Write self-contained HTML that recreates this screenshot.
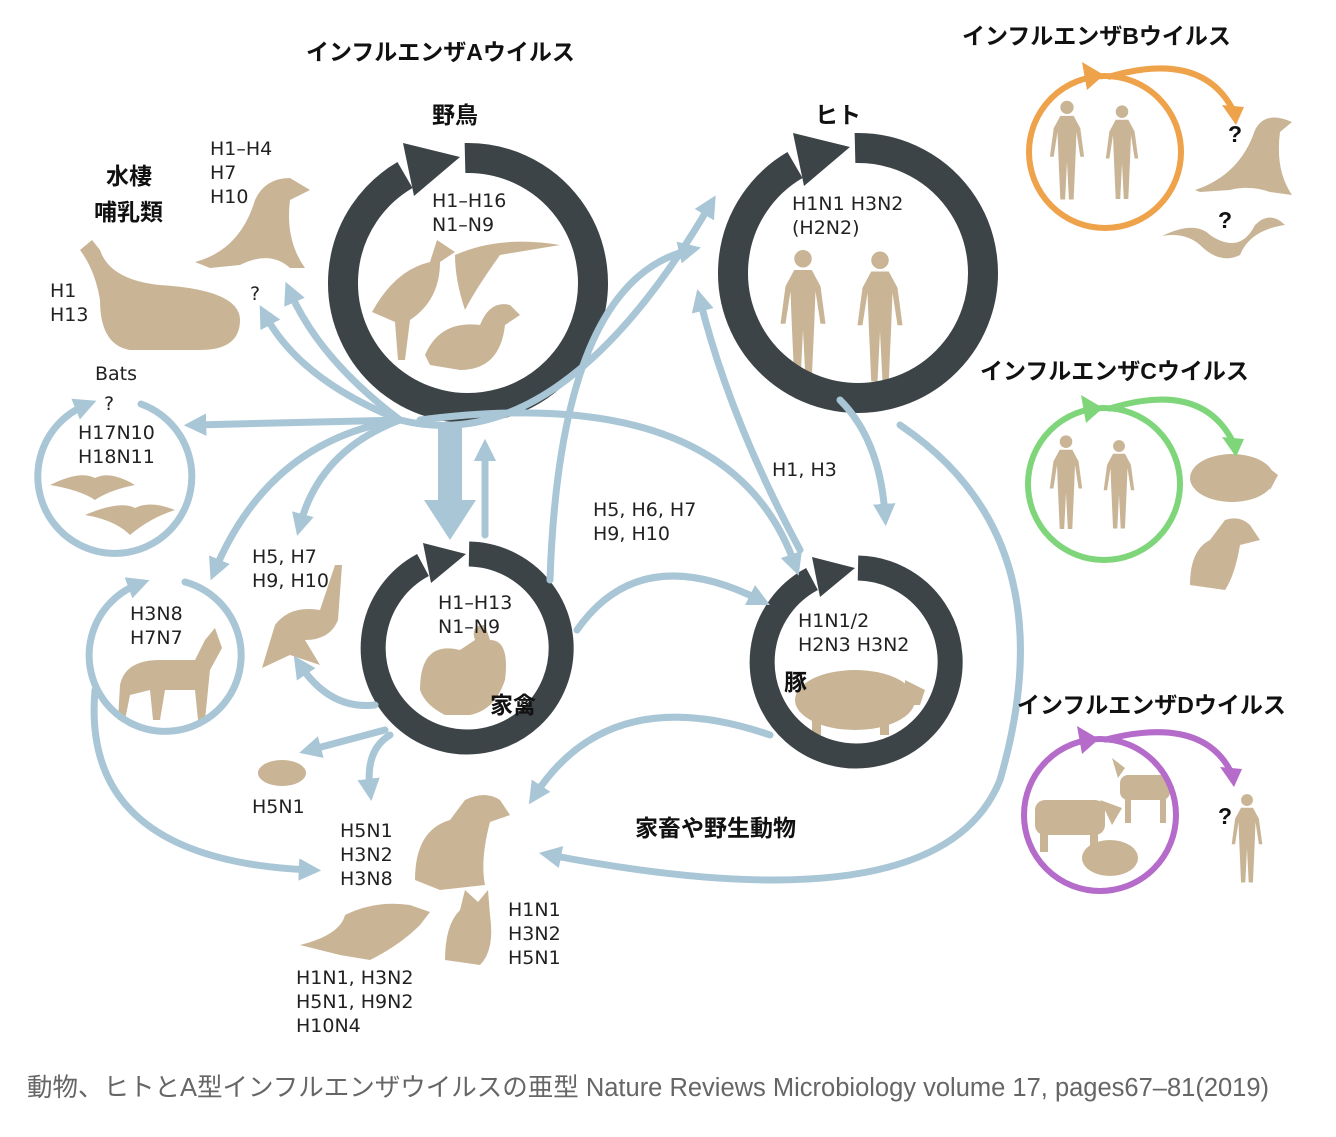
<!DOCTYPE html>
<html><head><meta charset="utf-8"><style>
body{margin:0;background:#fff;}
svg{display:block}
.t{font-family:"Liberation Sans","Noto Sans CJK JP",sans-serif;font-weight:bold;font-size:23px;fill:#111}
.l{font-family:"DejaVu Sans","Liberation Sans",sans-serif;font-size:19px;fill:#222}
.b{fill:none;stroke:#a9c6d6;stroke-width:7;stroke-linecap:round}
</style></head><body>
<svg width="1336" height="1137" viewBox="0 0 1336 1137" xmlns="http://www.w3.org/2000/svg">
<defs>
<marker id="ah" viewBox="0 0 10 10" refX="5" refY="5" markerWidth="3.2" markerHeight="3.2" orient="auto"><path d="M0,0 L10,5 L0,10 z" fill="#a9c6d6"/></marker>
<symbol id="man" viewBox="0 0 40 110"><circle cx="20" cy="8" r="7"/><path d="M13,17 H27 L34,30 L38,60 L34,60 L30,34 L29,60 L27,105 L22,105 L20,65 L18,105 L13,105 L11,60 L10,34 L6,60 L2,60 L6,30 Z"/></symbol>
</defs>
<g fill="#c9b596">
<use href="#man" x="778" y="245" width="50" height="145"/>
<use href="#man" x="855" y="248" width="50" height="142"/>
<use href="#man" x="1048" y="98" width="38" height="108"/>
<use href="#man" x="1104" y="103" width="36" height="102"/>
<use href="#man" x="1048" y="432" width="36" height="104"/>
<use href="#man" x="1102" y="436" width="34" height="100"/>
<use href="#man" x="1230" y="785" width="34" height="110"/>
<path d="M80,250 L92,240 L100,250 Q110,280 160,285 Q240,290 240,320 Q240,350 200,350 L130,350 Q100,345 100,300 Q95,270 80,250 Z"/>
<path d="M195,262 Q240,250 255,200 Q265,178 290,178 L310,190 L290,200 Q285,240 305,268 L290,268 Q270,250 240,265 L210,268 Z"/>
<path d="M1195,190 Q1240,175 1255,130 Q1265,110 1292,122 L1280,132 Q1275,170 1292,195 L1270,192 Q1250,185 1230,190 L1200,192 Z"/>
<path d="M1162,236 Q1195,220 1210,235 Q1240,255 1255,225 Q1270,210 1285,225 Q1250,230 1240,255 Q1220,265 1200,245 Q1185,232 1162,236 Z"/>
<path d="M372,312 Q395,270 430,262 L437,240 L455,252 L440,262 Q440,300 410,320 L405,360 L398,360 L395,322 Z"/>
<path d="M455,255 Q500,235 560,245 L500,255 Q475,290 465,310 Q455,280 455,255 Z"/>
<path d="M425,355 Q440,320 480,325 Q490,300 510,305 L520,315 L505,325 Q500,370 460,370 L430,365 Z"/>
<path d="M420,690 Q420,640 460,650 L475,640 Q470,625 485,625 L490,640 Q510,640 505,680 Q495,710 470,715 L445,715 Q425,705 420,690 Z"/>
<ellipse cx="855" cy="700" rx="60" ry="30"/>
<path d="M905,680 L925,690 L920,705 L905,705 Z"/>
<rect x="812" y="715" width="9" height="20"/><rect x="880" y="715" width="9" height="20"/>
<ellipse cx="1232" cy="478" rx="42" ry="24"/><path d="M1265,465 L1278,475 L1270,490Z"/>
<ellipse cx="1110" cy="858" rx="28" ry="18"/>
<rect x="1035" y="800" width="70" height="35" rx="10"/><rect x="1040" y="830" width="8" height="22"/><rect x="1090" y="830" width="8" height="22"/><path d="M1100,800 L1122,808 L1112,825Z"/>
<rect x="1120" y="775" width="50" height="25" rx="8"/><rect x="1125" y="795" width="6" height="28"/><rect x="1160" y="795" width="6" height="28"/><path d="M1118,778 L1112,758 L1125,768Z"/>
<path d="M1190,585 Q1190,550 1210,540 L1225,520 Q1240,515 1250,525 L1260,540 L1240,545 Q1235,575 1225,590 Z"/>
<path d="M415,880 Q415,830 450,820 L465,800 Q485,790 500,800 L510,815 L490,822 Q480,860 485,885 L440,890 Z"/>
<path d="M300,945 Q340,935 345,915 Q375,900 410,905 L430,912 L420,925 Q400,945 370,960 L340,955 Z"/>
<path d="M445,960 Q445,925 460,910 L465,890 L478,902 L488,890 L490,915 Q495,950 480,965 Z"/>
<path d="M120,685 Q125,660 160,660 L195,660 L205,640 L215,628 L222,648 L210,670 L205,720 L198,720 L195,690 L165,690 L160,720 L153,720 L150,690 L130,695 L125,720 L118,720 Z"/>
<path d="M275,625 Q290,605 320,610 L335,565 L342,565 L338,620 Q330,640 305,640 L320,665 L290,655 L262,668 Z"/>
<ellipse cx="282" cy="773" rx="24" ry="13"/>
<path d="M50,485 Q80,470 95,478 Q110,470 135,485 Q110,490 95,500 Q80,490 50,485 Z"/>
<path d="M85,515 Q120,500 135,508 Q150,500 175,510 Q150,518 130,535 Q115,520 85,515 Z"/>
</g>

<!-- dark rings -->
<g fill="none" stroke="#3d4447" stroke-width="30">
<path d="M465,158 A125,125 0 1 1 405,175"/>
<path d="M855,148 A125,125 0 1 1 795,165"/>
</g>
<g fill="none" stroke="#3d4447" stroke-width="25">
<path d="M469,554 A94,94 0 1 1 423,565"/>
<path d="M858,568 A94,94 0 1 1 812,579"/>
</g>
<g fill="#3d4447">
<polygon points="403,143 460,157 414,196"/>
<polygon points="793,133 850,147 804,186"/>
<polygon points="423,543 466,554 431,583"/>
<polygon points="812,557 855,568 820,597"/>
</g>

<!-- small colored circles -->
<g fill="none" stroke-width="6">
<circle cx="1105" cy="152" r="76" stroke="#eea24a"/>
<path d="M1108,77 Q1200,50 1232,108" stroke="#eea24a"/>
<circle cx="1104" cy="484" r="76" stroke="#7fd67a"/>
<path d="M1108,409 Q1200,380 1232,440" stroke="#7fd67a"/>
<circle cx="1100" cy="815" r="76" stroke="#b46bc9"/>
<path d="M1104,740 Q1200,715 1230,770" stroke="#b46bc9"/>
</g>
<polygon points="1082,62 1104,75 1087,90" fill="#eea24a"/><polygon points="1222,105 1244,107 1236,125" fill="#eea24a"/>
<polygon points="1081,395 1103,408 1086,423" fill="#7fd67a"/><polygon points="1222,437 1244,439 1236,457" fill="#7fd67a"/>
<polygon points="1077,726 1099,739 1082,754" fill="#b46bc9"/><polygon points="1220,767 1242,769 1234,787" fill="#b46bc9"/>

<!-- blue cycle circles -->
<g class="b" stroke-width="6" marker-end="url(#ah)">
<path d="M141,404 A77,77 0 1 1 86,405"/>
<path d="M185,582 A76,76 0 1 1 139,584"/>
</g>

<!-- blue arrows -->
<g class="b" marker-end="url(#ah)">
<path d="M400,420 L195,425"/>
<path d="M400,420 Q300,380 265,315"/>
<path d="M400,420 Q320,360 290,292"/>
<path d="M400,420 Q270,440 215,570"/>
<path d="M400,420 Q320,450 300,525"/>
<path d="M485,535 L485,450"/>
<path d="M400,420 Q560,460 710,205"/>
<path d="M550,580 Q560,280 690,250"/>
<path d="M420,420 Q730,380 795,565"/>
<path d="M840,400 Q880,440 885,515"/>
<path d="M800,550 Q730,420 700,300"/>
<path d="M577,630 Q640,540 760,600"/>
<path d="M770,735 Q610,680 535,795"/>
<path d="M900,425 Q1070,540 1000,780 Q940,930 550,855"/>
<path d="M95,690 Q80,860 310,870"/>
<path d="M385,730 L310,750"/>
<path d="M390,735 Q365,750 370,790"/>
<path d="M375,705 Q330,710 300,665"/>
</g>
<polygon points="438,425 462,425 462,500 476,500 450,540 424,500 438,500" fill="#a9c6d6"/>

<!-- titles -->
<text class="t" x="306" y="60" font-size="24">インフルエンザAウイルス</text>
<text class="t" x="432" y="123">野鳥</text>
<text class="t" x="815" y="123">ヒト</text>
<text class="t" x="106" y="184">水棲</text>
<text class="t" x="94" y="220">哺乳類</text>
<text class="t" x="490" y="713">家禽</text>
<text class="t" x="784" y="690">豚</text>
<text class="t" x="635" y="836">家畜や野生動物</text>
<text class="t" x="962" y="44" font-size="24">インフルエンザBウイルス</text>
<text class="t" x="980" y="379" font-size="24">インフルエンザCウイルス</text>
<text class="t" x="1017" y="713" font-size="24">インフルエンザDウイルス</text>
<text class="t" x="1228" y="142" font-size="18">?</text>
<text class="t" x="1218" y="228" font-size="18">?</text>
<text class="t" x="1218" y="824" font-size="18">?</text>

<g class="l">
<text x="210" y="155">H1–H4</text><text x="210" y="179">H7</text><text x="210" y="203">H10</text>
<text x="50" y="297">H1</text><text x="50" y="321">H13</text>
<text x="250" y="300">?</text>
<text x="95" y="380">Bats</text><text x="104" y="410">?</text>
<text x="78" y="439">H17N10</text><text x="78" y="463">H18N11</text>
<text x="432" y="207">H1–H16</text><text x="432" y="231">N1–N9</text>
<text x="792" y="210">H1N1  H3N2</text><text x="792" y="234">(H2N2)</text>
<text x="772" y="476">H1, H3</text>
<text x="593" y="516">H5, H6, H7</text><text x="593" y="540">H9, H10</text>
<text x="252" y="563">H5, H7</text><text x="252" y="587">H9, H10</text>
<text x="130" y="620">H3N8</text><text x="130" y="644">H7N7</text>
<text x="438" y="609">H1–H13</text><text x="438" y="633">N1–N9</text>
<text x="798" y="627">H1N1/2</text><text x="798" y="651">H2N3 H3N2</text>
<text x="252" y="813">H5N1</text>
<text x="340" y="837">H5N1</text><text x="340" y="861">H3N2</text><text x="340" y="885">H3N8</text>
<text x="508" y="916">H1N1</text><text x="508" y="940">H3N2</text><text x="508" y="964">H5N1</text>
<text x="296" y="984">H1N1, H3N2</text><text x="296" y="1008">H5N1, H9N2</text><text x="296" y="1032">H10N4</text>
</g>
<text x="27" y="1096" font-family="'Liberation Sans','Noto Sans CJK JP',sans-serif" font-size="25.5" fill="#666">動物、ヒトとA型インフルエンザウイルスの亜型 Nature Reviews Microbiology volume 17, pages67–81(2019)</text>
</svg>
</body></html>
